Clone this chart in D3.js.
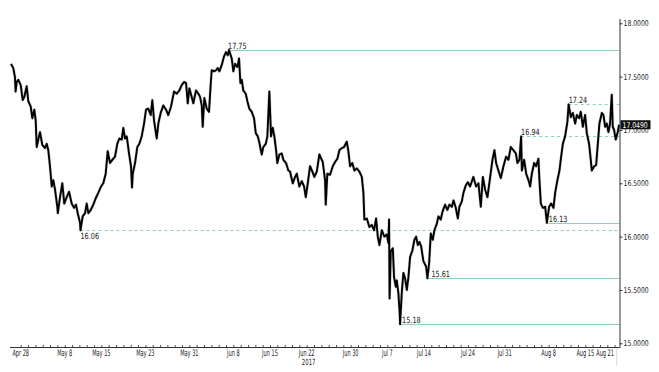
<!DOCTYPE html>
<html>
<head>
<meta charset="utf-8">
<script src="https://cdn.jsdelivr.net/npm/d3@7"></script>
<style>
  html, body { margin: 0; padding: 0; background: #fff; }
  svg { display: block; }
  text { font-family: "DejaVu Sans Condensed", "Liberation Sans", sans-serif; }
</style>
</head>
<body>
<svg id="chart" width="659" height="372"></svg>
<script>
// Trading-day index (0 = Apr 28, 2017), fractional positions within a day
const dayIndex = [
  -1.33,-1.01,-0.78,-0.70,-0.55,-0.33,0.00,0.27,0.49,0.81,1.03,1.36,1.58,1.85,2.04,2.18,2.40,2.63,2.94,3.31,
  3.54,3.76,3.99,4.23,4.44,4.68,4.99,5.06,5.36,5.67,5.94,6.27,6.59,6.95,7.27,7.54,7.77,8.09,8.15,8.45,
  8.77,9.00,9.22,9.55,9.90,10.23,10.58,10.95,11.26,11.59,11.86,12.18,12.49,12.86,13.17,13.45,13.77,13.99,14.22,14.46,
  14.77,15.04,15.18,15.28,15.59,15.90,16.18,16.50,16.82,17.09,17.40,17.73,17.95,18.18,18.55,18.77,19.09,19.45,19.82,20.13,
  20.50,20.91,21.28,21.63,21.96,22.27,22.55,22.78,23.00,23.32,23.54,23.91,24.23,24.46,24.69,24.82,25.04,25.37,25.68,25.92,
  26.05,26.37,26.64,26.87,27.09,27.42,27.73,28.00,28.24,28.41,28.55,28.78,29.00,29.23,29.55,29.78,29.96,30.15,30.36,30.69,
  30.91,31.18,31.51,31.82,32.06,32.33,32.55,32.87,33.09,33.42,33.64,33.91,34.14,34.38,34.59,34.83,35.00,35.28,35.60,35.82,
  36.19,36.50,36.73,37.10,37.42,37.65,38.00,38.33,38.65,38.88,39.15,39.46,39.78,40.05,40.38,40.73,41.06,41.19,41.51,41.60,
  41.82,42.19,42.56,42.87,43.19,43.46,43.79,44.10,44.47,44.69,44.92,45.23,45.51,45.84,46.19,46.52,46.74,46.87,47.20,47.55,
  47.88,48.19,48.47,48.70,48.92,49.25,49.60,49.93,50.15,50.24,50.31,50.47,50.75,50.92,51.16,51.29,51.51,51.70,51.74,51.97,
  52.19,52.42,52.66,52.88,53.11,53.42,53.69,53.93,54.16,54.38,54.61,54.92,55.29,55.47,55.70,55.93,56.20,56.42,56.75,56.97,
  57.29,57.51,57.88,58.19,58.47,58.80,59.02,59.34,59.62,59.83,60.16,60.38,60.70,60.98,61.29,61.74,62.11,62.43,62.75,63.03,
  63.34,63.66,64.03,64.34,64.61,64.84,65.15,65.48,65.84,66.20,66.52,66.84,67.20,67.53,67.75,68.02,68.25,68.35,68.66,68.94,
  69.25,69.48,69.71,70.03,70.30,70.61,70.75,70.94,71.21,71.53,71.76,72.07,72.35,72.66,72.89,73.20,73.48,73.71,73.94,74.25,
  74.57,74.73,75.03,75.30,75.62,75.85,76.16,76.39,76.67,76.98,77.21,77.52,77.75,77.89,78.21,78.48,78.71,78.93,79.26,79.48,
  79.71,79.94,80.16,80.38,80.61,80.75,80.93,81.16,81.43,81.61
];
const price = [
  17.62,17.58,17.49,17.36,17.45,17.47,17.42,17.28,17.31,17.41,17.27,17.22,17.11,17.19,17.09,16.84,16.91,16.98,16.86,16.83,
  16.87,16.81,16.66,16.47,16.53,16.44,16.28,16.22,16.37,16.50,16.31,16.37,16.42,16.31,16.27,16.30,16.22,16.13,16.06,16.19,
  16.22,16.31,16.22,16.25,16.30,16.36,16.41,16.47,16.50,16.59,16.80,16.69,16.72,16.75,16.87,16.92,16.91,17.02,16.92,16.94,
  16.78,16.66,16.46,16.59,16.69,16.84,16.87,16.94,17.06,17.19,17.20,17.14,17.28,17.09,16.92,17.06,17.16,17.23,17.19,17.14,
  17.22,17.36,17.34,17.37,17.42,17.45,17.44,17.25,17.39,17.31,17.25,17.37,17.34,17.31,17.23,17.03,17.30,17.20,17.17,17.44,
  17.56,17.55,17.56,17.58,17.55,17.61,17.69,17.73,17.70,17.75,17.72,17.67,17.55,17.62,17.59,17.67,17.44,17.47,17.37,17.34,
  17.27,17.20,17.17,17.11,16.97,16.94,16.88,16.77,16.84,16.87,16.94,17.36,16.94,17.02,16.94,16.81,16.69,16.77,16.78,16.72,
  16.69,16.62,16.61,16.50,16.56,16.59,16.47,16.52,16.47,16.37,16.50,16.66,16.61,16.56,16.61,16.77,16.72,16.70,16.53,16.30,
  16.59,16.58,16.66,16.70,16.73,16.81,16.83,16.84,16.89,16.80,16.66,16.69,16.62,16.64,16.61,16.56,16.41,16.16,16.17,16.09,
  16.11,16.06,16.17,16.00,15.92,16.06,16.00,16.02,15.94,16.16,15.42,15.86,15.89,15.62,15.53,15.59,15.47,15.27,15.18,15.47,
  15.66,15.61,15.50,15.62,15.81,15.87,15.97,16.00,15.92,15.95,15.91,15.77,15.72,15.61,15.75,16.03,15.97,16.06,16.12,16.19,
  16.16,16.23,16.30,16.25,16.30,16.28,16.34,16.27,16.17,16.28,16.33,16.41,16.48,16.51,16.47,16.56,16.47,16.50,16.28,16.56,
  16.44,16.37,16.56,16.72,16.81,16.69,16.62,16.55,16.66,16.75,16.72,16.84,16.81,16.78,16.69,16.72,16.94,16.62,16.72,16.59,
  16.53,16.47,16.59,16.69,16.66,16.73,16.53,16.31,16.27,16.28,16.13,16.28,16.31,16.27,16.41,16.53,16.62,16.75,16.87,16.94,
  17.08,17.24,17.12,17.16,17.06,17.14,17.11,17.17,17.03,17.14,16.97,16.87,16.72,16.62,16.66,16.67,16.87,17.06,17.16,17.14,
  17.03,17.06,16.98,17.06,17.33,17.03,17.00,16.91,16.98,17.049
];

// Date axis labels (trading-day index -> label)
const tickDays   = [0, 6, 11, 17, 23, 29, 34, 39, 45, 50, 55, 61, 66, 72, 77, 81];
const tickLabels = ["Apr 28","May 8","May 15","May 23","May 31","Jun 8","Jun 15","Jun 22",
                    "Jun 30","Jul 7","Jul 14","Jul 24","Jul 31","Aug 8","Aug 15","Aug 21"];
const yearLabel = "2017";
const yearDay = 39;
const yTicks = [15, 15.5, 16, 16.5, 17, 17.5, 18];

// Annotated levels: value, trading day where the line starts, and label
const levelValues = [17.75, 17.24, 16.94, 16.13, 16.06, 15.61, 15.18];
const levelStart  = [28.41, 74.73, 68.25, 71.76, 8.15, 55.47, 51.74];
const levelLabels = ["17.75","17.24","16.94","16.13","16.06","15.61","15.18"];
const lastValue = 17.0490;

// ---- styling (kept separate from data) ----
const levelStyle = {
  "17.75": {dash: null, labelPos: "above", dx: -1},
  "17.24": {dash: "3,3", labelPos: "above", dx: 0},
  "16.94": {dash: "3,3", labelPos: "above", dx: 0},
  "16.13": {dash: null, labelPos: "above", dx: 2},
  "16.06": {dash: "3,3", labelPos: "below", dx: 0},
  "15.61": {dash: null, labelPos: "above", dx: 4},
  "15.18": {dash: null, labelPos: "above", dx: 2}
};
const levelColor = "#8dd3b6";
const FONT = 8;

// draw text squeezed horizontally (narrow, Bloomberg-like face)
function narrowText(parent, px, py, str, size, sx, anchor, fill) {
  return parent.append("text")
    .attr("transform", `translate(${px},${py}) scale(${sx},1)`)
    .attr("font-size", size)
    .attr("text-anchor", anchor || "start")
    .attr("fill", fill || "#222")
    .text(str);
}

const svg = d3.select("#chart");
const x = d3.scaleLinear().domain([-1.6, 81.6]).range([9, 619]);
const y = d3.scaleLinear().domain([15, 18]).range([343.3, 23.3]);
const axisY = 347;
const axisX = 619.5;

// level lines
levelValues.forEach((v, i) => {
  const st = levelStyle[levelLabels[i]];
  const yy = Math.round(y(v)) + 0.5;
  svg.append("line")
    .attr("x1", x(levelStart[i])).attr("x2", axisX)
    .attr("y1", yy).attr("y2", yy)
    .attr("stroke", levelColor).attr("stroke-width", 1)
    .attr("stroke-dasharray", st.dash);
  narrowText(svg, x(levelStart[i]) + st.dx, st.labelPos === "below" ? yy + 8 : yy - 2,
             levelLabels[i], FONT + 0.5, 0.85);
});

// price line
const pts = dayIndex.map((d, i) => [d, price[i]]);
const line = d3.line().x(d => x(d[0])).y(d => y(d[1]));
svg.append("path")
  .datum(pts)
  .attr("d", line)
  .attr("fill", "none")
  .attr("stroke", "#999")
  .attr("stroke-width", 3)
  .attr("stroke-linejoin", "round")
  .attr("opacity", 0.45);
svg.append("path")
  .datum(pts)
  .attr("d", line)
  .attr("fill", "none")
  .attr("stroke", "#000")
  .attr("stroke-width", 1.9)
  .attr("stroke-linejoin", "round");

// current-date marker below axis
svg.append("line")
  .attr("x1", x(81.3)).attr("x2", x(81.3))
  .attr("y1", axisY).attr("y2", 366)
  .attr("stroke", "#d8d8d8").attr("stroke-width", 1);

// x axis (ticks every trading day, labels on selected days)
const allDays = d3.range(0, 82);
const xAxis = d3.axisBottom(x)
  .tickValues(allDays)
  .tickSize(-2)
  .tickFormat("");
const gx = svg.append("g").attr("transform", `translate(0,${axisY})`).call(xAxis);
gx.select(".domain").attr("d", `M10,0.5H${axisX}`).attr("stroke", "#333");
gx.selectAll(".tick line").attr("stroke", "#555");
tickDays.forEach((d, i) => {
  const last = i === tickDays.length - 1;
  narrowText(svg, last ? 614 : x(d), 355.5, tickLabels[i], FONT + 1, 0.62, last ? "end" : "middle");
});
narrowText(svg, x(yearDay) + 2, 365, yearLabel, FONT + 0.5, 0.7, "middle");

// y axis (right)
const yAxis = d3.axisRight(y)
  .tickValues(yTicks)
  .tickSize(3)
  .tickFormat("");
const gy = svg.append("g").attr("transform", `translate(${axisX},0)`).call(yAxis);
gy.select(".domain").attr("d", "M0.5,19V348").attr("stroke", "#333");
gy.selectAll(".tick line").attr("stroke", "#333");
const fmt = d3.format(".4f");
yTicks.forEach(v => {
  narrowText(svg, axisX + 4, y(v) + 3, fmt(v), FONT, 0.85);
});

// last value tag
const lastY = y(lastValue);
svg.append("rect")
  .attr("x", axisX + 1).attr("y", lastY - 4.5)
  .attr("width", 30).attr("height", 9)
  .attr("fill", "#111");
narrowText(svg, axisX + 3, lastY + 3, fmt(lastValue), FONT, 0.85, "start", "#fff");
</script>
</body>
</html>
